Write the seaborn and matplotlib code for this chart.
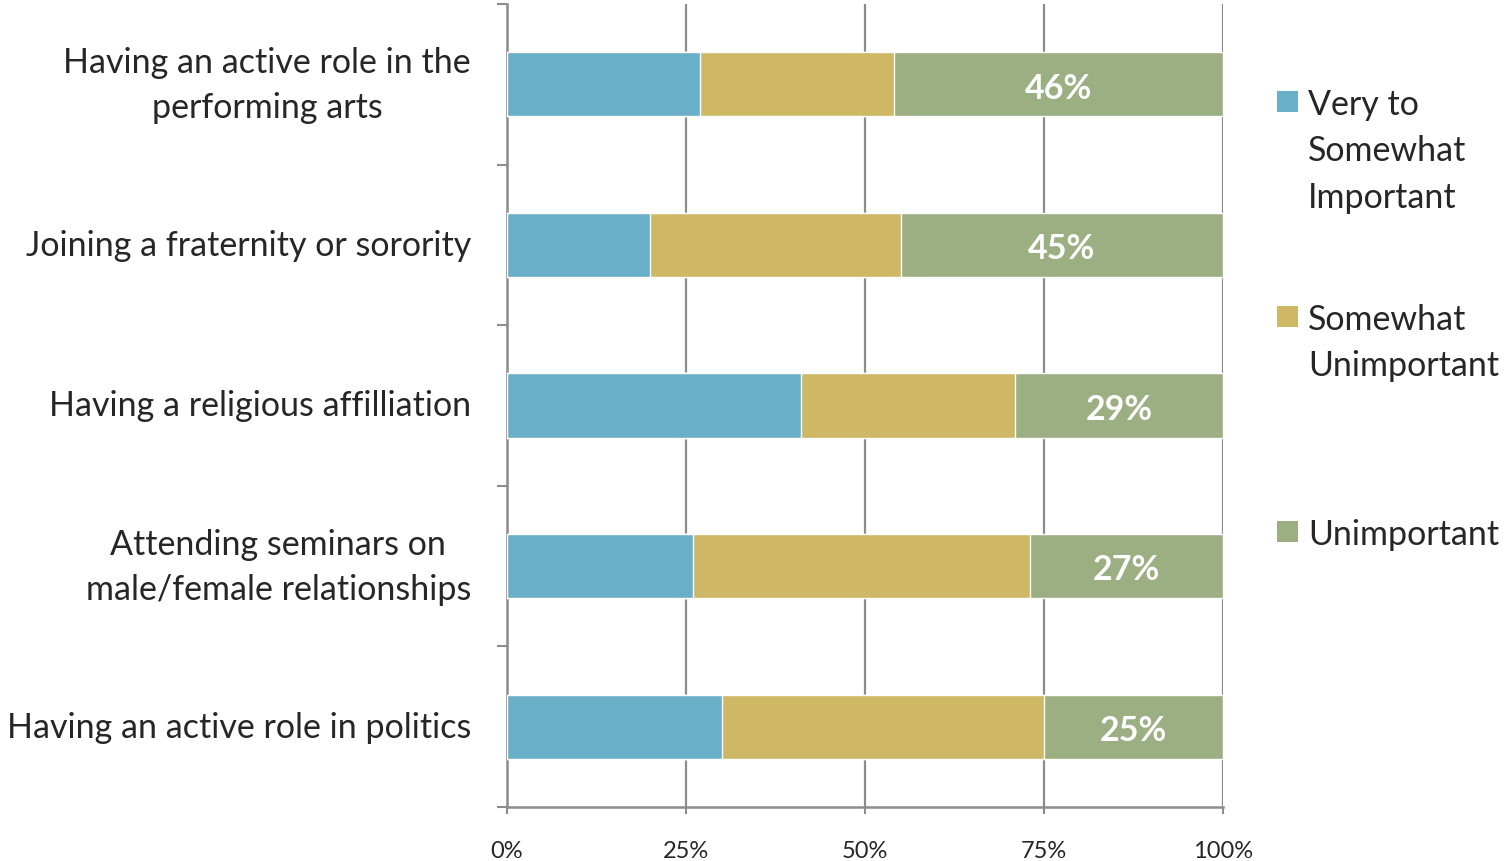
import matplotlib
matplotlib.use('Agg')
import matplotlib.pyplot as plt
import seaborn as sns
import pandas as pd
import numpy as np
from matplotlib.patches import Rectangle

# data (percent of respondents)
activities = [
    "Having an active role in the\nperforming arts",
    "Joining a fraternity or sorority",
    "Having a religious affilliation",
    "Attending seminars on\nmale/female relationships",
    "Having an active role in politics",
]
very_somewhat_important = [27, 20, 41, 26, 30]
somewhat_unimportant = [27, 35, 30, 47, 45]
unimportant = [46, 45, 29, 27, 25]
series_names = ["Very to\nSomewhat\nImportant", "Somewhat\nUnimportant", "Unimportant"]
x_ticks = [0, 25, 50, 75, 100]
x_tick_labels = ["0%", "25%", "50%", "75%", "100%"]

colors = ["#6AAFC8", "#CEB866", "#9CAF82"]
grid_gray = "#8C8C8C"

sns.set_style("white")
plt.rcParams['font.family'] = ['Lato', 'DejaVu Sans']

df = pd.DataFrame({
    "activity": activities,
    "s1": very_somewhat_important,
    "s2": somewhat_unimportant,
    "s3": unimportant,
})
df["c1"] = df["s1"]
df["c2"] = df["s1"] + df["s2"]
df["c3"] = df["c2"] + df["s3"]

fig = plt.figure(figsize=(15.05, 8.62), dpi=100)
ax = fig.add_axes([507 / 1505, 1 - 808 / 862, (1223 - 507) / 1505, (808 - 5) / 862])

# stacked bars: draw cumulative totals back to front
for col, c in zip(["c3", "c2", "c1"], colors[::-1]):
    sns.barplot(data=df, x=col, y="activity", color=c, width=0.4,
                orient="h", ax=ax, saturation=1, zorder=3)

# value labels in the last segment
for i, row in df.iterrows():
    ax.text((row["c2"] + row["c3"]) / 2, i + 0.02, f"{row['s3']}%", ha="center", va="center",
            color="white", fontsize=24.5, fontweight="bold", zorder=4)

ax.set_xlim(0, 100)
ax.set_ylim(len(activities) - 0.5, -0.5)
ax.set_xlabel("")
ax.set_ylabel("")

ax.set_xticks(x_ticks)
ax.set_xticklabels(x_tick_labels, fontsize=17)
ax.set_yticks(range(len(activities)))
ax.set_yticklabels(activities, fontsize=24.5, multialignment="center", linespacing=1.5,
                   va="center")
ax.set_yticks(np.arange(-0.5, len(activities)), minor=True)

ax.tick_params(axis="y", which="major", length=0, pad=26)
ax.tick_params(axis="y", which="minor", length=7, width=1.5, color=grid_gray, direction="out", left=True)
ax.tick_params(axis="x", which="major", length=5, width=1.5, color=grid_gray, direction="out", bottom=True, pad=19)

ax.xaxis.grid(True, color=grid_gray, linewidth=1.6, zorder=0)
ax.set_axisbelow(True)
for side in ["top", "right"]:
    ax.spines[side].set_visible(False)
for side in ["left", "bottom"]:
    ax.spines[side].set_color(grid_gray)
    ax.spines[side].set_linewidth(1.8)

# legend drawn by hand so the swatch sits on the first line of each label
legend_rows = [103, 318, 533]
for name, c, yrow in zip(series_names, colors, legend_rows):
    fig.patches.append(Rectangle((1277 / 1505, 1 - (yrow + 10) / 862), 21 / 1505, 21 / 862,
                                 transform=fig.transFigure, facecolor=c, edgecolor="none"))
    fig.text(1308 / 1505, 1 - (yrow - 14) / 862, name, fontsize=24.5, ha="left", va="top",
             linespacing=1.55)

fig.savefig("out.png", dpi=100)
